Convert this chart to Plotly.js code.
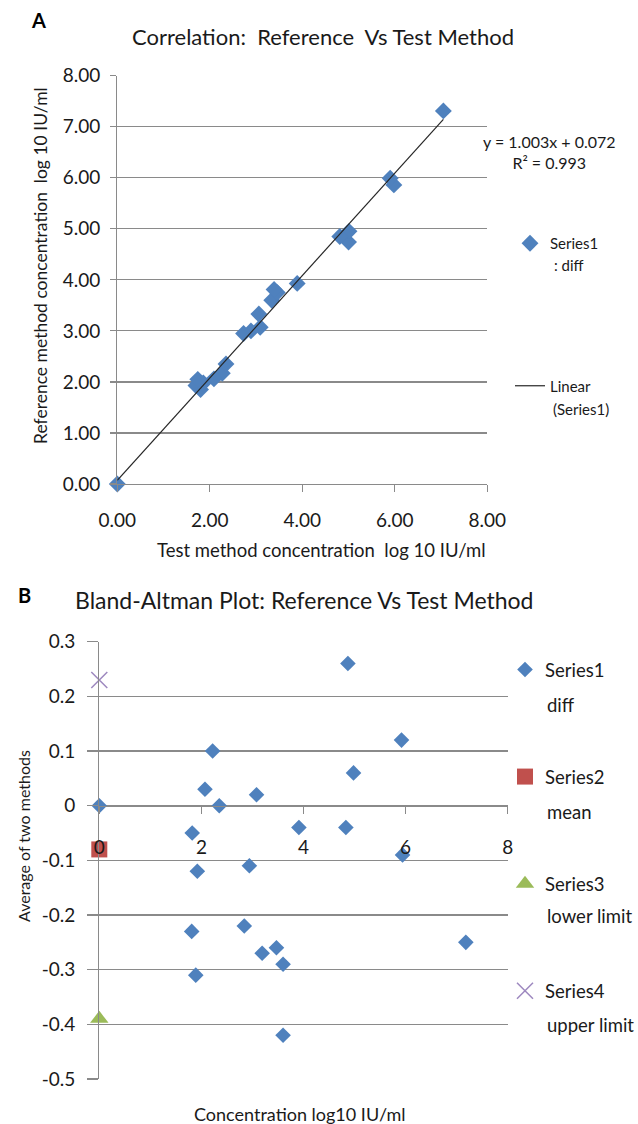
<!DOCTYPE html>
<html>
<head>
<meta charset="utf-8">
<script src="https://cdn.plot.ly/plotly-3.0.1.min.js"></script>
<style>html,body{margin:0;padding:0;background:#fff;}#chart{width:638px;height:1124px;}</style>
</head>
<body>
<div id="chart"></div>
<script>
// ---- Panel A data: Reference vs Test method (log10 IU/ml) ----
const testMethod = [5.00, 5.98, 2.27, 5.01, 2.09, 3.09, 2.35, 0.00, 1.80, 3.89, 4.81, 5.90, 1.86, 2.89, 1.70, 2.73, 7.05, 3.06, 3.34, 3.46, 1.74, 3.39];
const refMethod  = [4.74, 5.86, 2.17, 4.95, 2.06, 3.07, 2.35, 0.00, 1.85, 3.93, 4.85, 5.99, 1.98, 3.00, 1.93, 2.95, 7.31, 3.33, 3.60, 3.75, 2.05, 3.81];
const trendSlope = 1.003;
const trendIntercept = 0.072;
const trendLabel = "y = 1.003x + 0.072<br>R² = 0.993";

// ---- Panel B data: Bland-Altman ----
const baAverage = [4.87, 5.92, 2.22, 4.98, 2.07, 3.08, 2.35, 0.00, 1.82, 3.91, 4.83, 5.94, 1.92, 2.94, 1.81, 2.84, 7.18, 3.19, 3.47, 3.60, 1.89, 3.60];
const baDiff    = [0.26, 0.12, 0.10, 0.06, 0.03, 0.02, 0.00, 0.00, -0.05, -0.04, -0.04, -0.09, -0.12, -0.11, -0.23, -0.22, -0.25, -0.27, -0.26, -0.29, -0.31, -0.42];
const meanX = [0];  const meanY = [-0.08];
const lowerX = [0]; const lowerY = [-0.39];
const upperX = [0]; const upperY = [0.23];

const aTickVals = [0, 1, 2, 3, 4, 5, 6, 7, 8];
const aXTickVals = [0, 2, 4, 6, 8];
const bYTickVals = [0.3, 0.2, 0.1, 0, -0.1, -0.2, -0.3, -0.4, -0.5];
const bYTickText = ["0.3", "0.2", "0.1", "0", "-0.1", "-0.2", "-0.3", "-0.4", "-0.5"];
const bXTickVals = [0, 2, 4, 6, 8];

// ---- layout helpers ----
const W = 638, H = 1124;
const px = x => x / W;
const py = y => 1 - y / H;
const FONT = "Lato, 'Open Sans', sans-serif";
const TXT = "#1a1a1a";
const GRID = "#8a8a8a";
const BLUE = "#4F81BD", RED = "#C0504D", GREEN = "#9BBB59", PURPLE = "#9D88BF";

const trendX = [Math.min(...testMethod), Math.max(...testMethod)];
const trendY = trendX.map(x => trendSlope * x + trendIntercept);

const aXDom = [px(117.3), px(487.3)];
const aYDom = [py(484), py(75.7)];
const bXDom = [px(99.3), px(507.7)];
const bYDom = [py(1079), py(641.7)];
const bYRange = [-0.5, 0.3];
const bXPos = bYDom[0] + (0 - bYRange[0]) / (bYRange[1] - bYRange[0]) * (bYDom[1] - bYDom[0]);

const traces = [
  {x: testMethod, y: refMethod, type: 'scatter', mode: 'markers', name: 'Series1',
   marker: {symbol: 'diamond', size: 13, color: BLUE}, xaxis: 'x', yaxis: 'y',
   cliponaxis: false, legend: 'legend', legendgroup: 'a1'},
  {x: trendX, y: trendY, type: 'scatter', mode: 'lines', name: 'Linear',
   line: {color: '#262626', width: 1.2}, xaxis: 'x', yaxis: 'y',
   legend: 'legend', legendgroup: 'a2'},
  {x: baAverage, y: baDiff, type: 'scatter', mode: 'markers', name: 'Series1',
   marker: {symbol: 'diamond', size: 12, color: BLUE}, xaxis: 'x2', yaxis: 'y2',
   cliponaxis: false, legend: 'legend2', legendgroup: 'b1'},
  {x: meanX, y: meanY, type: 'scatter', mode: 'markers', name: 'Series2',
   marker: {symbol: 'square', size: 16, color: RED}, xaxis: 'x2', yaxis: 'y2',
   cliponaxis: false, legend: 'legend2', legendgroup: 'b2'},
  {x: lowerX, y: lowerY, type: 'scatter', mode: 'markers', name: 'Series3',
   marker: {symbol: 'triangle-up', size: 16, color: GREEN}, xaxis: 'x2', yaxis: 'y2',
   cliponaxis: false, legend: 'legend2', legendgroup: 'b3'},
  {x: upperX, y: upperY, type: 'scatter', mode: 'markers', name: 'Series4',
   marker: {symbol: 'x-thin-open', size: 16, color: PURPLE, line: {color: PURPLE, width: 1.5}},
   xaxis: 'x2', yaxis: 'y2', cliponaxis: false, legend: 'legend2', legendgroup: 'b4'}
];

const ann = (text, x, y, size, opts) => Object.assign({
  text: text, x: px(x), y: py(y), xref: 'paper', yref: 'paper', showarrow: false,
  xanchor: 'center', yanchor: 'middle',
  font: {family: FONT, size: size, color: TXT}
}, opts || {});

const layout = {
  width: W, height: H,
  margin: {l: 0, r: 0, t: 0, b: 0},
  paper_bgcolor: '#fff', plot_bgcolor: 'rgba(0,0,0,0)',
  font: {family: FONT, color: TXT},
  xaxis: {domain: aXDom, range: [0, 8], tickvals: aXTickVals, tickformat: '.2f',
    showgrid: false, zeroline: false, showline: true, linecolor: GRID, linewidth: 1.2,
    ticks: 'outside', ticklen: 7, tickcolor: GRID, tickwidth: 1.2,
    ticklabelstandoff: 12, tickfont: {size: 19, family: FONT, color: TXT}, anchor: 'y'},
  yaxis: {domain: aYDom, range: [0, 8], tickvals: aTickVals, tickformat: '.2f',
    showgrid: true, gridcolor: GRID, gridwidth: 1.2, zeroline: false,
    showline: true, linecolor: GRID, linewidth: 1.2,
    ticks: 'outside', ticklen: 6, tickcolor: GRID, tickwidth: 1.2,
    ticklabelstandoff: 6, tickfont: {size: 19, family: FONT, color: TXT}, anchor: 'x'},
  xaxis2: {domain: bXDom, range: [0, 8], tickvals: bXTickVals,
    showgrid: false, zeroline: false, showline: true, linecolor: GRID, linewidth: 1.2,
    ticks: 'outside', ticklen: 7, tickcolor: GRID, tickwidth: 1.2,
    ticklabelstandoff: 17, tickfont: {size: 19, family: FONT, color: TXT},
    anchor: 'free', position: bXPos},
  yaxis2: {domain: bYDom, range: bYRange, tickvals: bYTickVals, ticktext: bYTickText,
    showgrid: true, gridcolor: GRID, gridwidth: 1.2, zeroline: false,
    showline: true, linecolor: GRID, linewidth: 1.2,
    ticks: 'outside', ticklen: 11, tickcolor: GRID, tickwidth: 1.2,
    ticklabelstandoff: 8, tickfont: {size: 19, family: FONT, color: TXT}, anchor: 'x2'},
  legend: {x: px(510), y: py(227), xanchor: 'left', yanchor: 'top',
    traceorder: 'grouped', tracegroupgap: 120, bgcolor: 'rgba(0,0,0,0)',
    font: {family: FONT, size: 15, color: TXT}, itemwidth: 30},
  legend2: {x: px(505), y: py(651), xanchor: 'left', yanchor: 'top',
    traceorder: 'grouped', tracegroupgap: 80, bgcolor: 'rgba(0,0,0,0)',
    font: {family: FONT, size: 18.5, color: TXT}, itemwidth: 30},
  annotations: [
    ann('<b>A</b>', 38, 20, 20, {font: {family: FONT, size: 20, color: '#000'}}),
    ann('Correlation:  Reference  Vs Test Method', 323, 36, 22),
    ann('Test method concentration  log 10 IU/ml', 321, 550, 18.5),
    ann('Reference method concentration  log 10 IU/ml', 41, 266, 17.5, {textangle: -90}),
    ann(trendLabel, 549, 152, 16),
    ann(': diff', 552, 265, 15, {xanchor: 'left'}),
    ann('(Series1)', 551, 409, 15, {xanchor: 'left'}),
    ann('<b>B</b>', 24, 595, 20, {font: {family: FONT, size: 20, color: '#000'}}),
    ann('Bland-Altman Plot: Reference Vs Test Method', 304, 600, 23),
    ann('Concentration log10 IU/ml', 300, 1114, 18),
    ann('Average of two methods', 23, 836, 16, {textangle: -90}),
    ann('diff', 545, 705, 18.5, {xanchor: 'left'}),
    ann('mean', 545, 812, 18.5, {xanchor: 'left'}),
    ann('lower limit', 545, 916, 18.5, {xanchor: 'left'}),
    ann('upper limit', 545, 1025, 18.5, {xanchor: 'left'})
  ]
};

Plotly.newPlot('chart', traces, layout, {staticPlot: true, displayModeBar: false});
</script>
</body>
</html>
